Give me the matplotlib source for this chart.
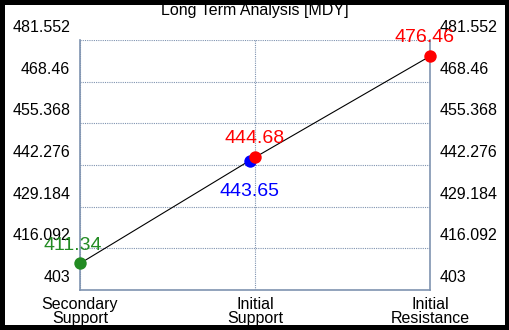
import matplotlib
matplotlib.use("Agg")
import matplotlib.pyplot as plt
import matplotlib.transforms as mtransforms

plt.rcParams['font.family'] = ['Liberation Sans', 'DejaVu Sans']

# данные
categories = ['Secondary\nSupport', 'Initial\nSupport', 'Initial\nResistance']
line_x = [0, 1, 2]
line_y = [411.34, 444.68, 476.46]
points_x = [0, 1, 1, 2]
points_y = [411.34, 443.65, 444.68, 476.46]
point_colors = ['#228b22', 'blue', 'red', 'red']
yticks = [403, 416.092, 429.184, 442.276, 455.368, 468.46, 481.552]
ytick_labels = ['403', '416.092', '429.184', '442.276', '455.368', '468.46', '481.552']

fig = plt.figure(figsize=(5.1, 3.3), dpi=100)
fig.patch.set_facecolor('white')
fig.patch.set_edgecolor('black')
fig.patch.set_linewidth(6)

ax = fig.add_axes([80/510, 40/330, 350/510, 250/330])
ax.set_xlim(0, 2)
ax.set_ylim(403, 481.552)

spine_col = '#7f93b0'
ax.spines['top'].set_visible(False)
for side in ['left', 'right', 'bottom']:
    ax.spines[side].set_color(spine_col)
    ax.spines[side].set_linewidth(1.2)

ax.grid(True, color=spine_col, linestyle=(0, (1, 1)), linewidth=0.8)
ax.set_axisbelow(True)

ax.plot(line_x, line_y, color='black', linewidth=0.8, zorder=2)

# точки; синяя чуть смещена влево
for i in range(len(points_x)):
    tr = ax.transData
    if point_colors[i] == 'blue':
        tr = ax.transData + mtransforms.ScaledTranslation(-0.05, 0, fig.dpi_scale_trans)
    ax.scatter([points_x[i]], [points_y[i]], s=80, color=point_colors[i],
               transform=tr, zorder=3, linewidths=0, clip_on=False)

# подписи значений
fs = 14
ax.annotate(f'{points_y[0]:.2f}', (points_x[0], points_y[0]), xytext=(-7, 18),
            textcoords='offset pixels', ha='center', va='center', color='#228b22', fontsize=fs)
ax.annotate(f'{points_y[1]:.2f}', (points_x[1], points_y[1]), xytext=(-5, -31),
            textcoords='offset pixels', ha='center', va='center', color='blue', fontsize=fs)
ax.annotate(f'{points_y[2]:.2f}', (points_x[2], points_y[2]), xytext=(0, 19),
            textcoords='offset pixels', ha='center', va='center', color='red', fontsize=fs)
ax.annotate(f'{points_y[3]:.2f}', (points_x[3], points_y[3]), xytext=(-5, 19),
            textcoords='offset pixels', ha='center', va='center', color='red', fontsize=fs)

ax.set_xticks(line_x)
ax.set_xticklabels(categories, fontsize=11.5, linespacing=0.9)
ax.set_yticks(yticks)
ax.set_yticklabels(ytick_labels, fontsize=11.5)
ax.tick_params(axis='y', left=True, right=True, labelleft=True, labelright=True,
               length=0, pad=7)
ax.tick_params(axis='x', length=0, pad=5)

up = mtransforms.ScaledTranslation(0, 0.14, fig.dpi_scale_trans)
for t in ax.yaxis.get_major_ticks():
    t.label1.set_transform(t.label1.get_transform() + up)
    t.label2.set_transform(t.label2.get_transform() + up)

fig.text(0.5, 1 - 10/330, 'Long Term Analysis [MDY]', ha='center', va='center', fontsize=11.5)

fig.savefig('out.png', dpi=100, facecolor=fig.get_facecolor(), edgecolor=fig.get_edgecolor())
